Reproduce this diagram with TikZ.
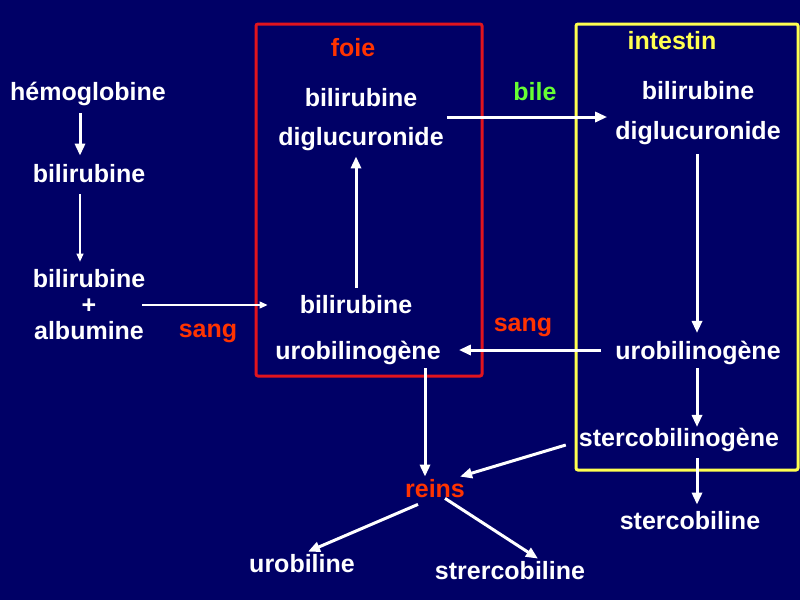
\documentclass[tikz,border=0pt]{standalone}
\usepackage{fontspec}
\setmainfont{Liberation Sans}
\usetikzlibrary{arrows.meta,positioning}

\definecolor{navybg}{RGB}{0,0,102}
\definecolor{organred}{RGB}{255,51,0}
\definecolor{foiered}{RGB}{225,20,30}
\definecolor{intyellow}{RGB}{255,255,80}
\definecolor{bilegreen}{RGB}{102,255,51}

\begin{document}
\begin{tikzpicture}[x=1pt,y=-1pt]
\tikzset{
  chem/.style={text=white,font=\bfseries\fontsize{25}{30}\selectfont,inner sep=3pt,align=center},
  organ/.style={chem,text=organred},
  organbox/.style={draw,line width=3pt,rounded corners=2pt},
  thickarrow/.style={draw=white,line width=3pt,-{Triangle[length=12pt,width=10pt]}},
  thinarrow/.style={draw=white,line width=1.2pt,-{Triangle[length=8pt,width=7pt]}}
}
\fill[navybg] (0,0) rectangle (800,600);
\useasboundingbox (0,0) rectangle (800,600);

% boxes
\node[organbox,draw=foiered,minimum width=226pt,minimum height=352pt] (n_foiebox) at (369,200) {};
\node[organbox,draw=intyellow,minimum width=222pt,minimum height=446pt] (n_intbox) at (687,247) {};

% blood side
\node[chem] (n_hemo) at (88,94) {hémoglobine};
\node[chem] (n_bili) at (89,174) {bilirubine};
\node[chem,font=\bfseries\fontsize{25}{26}\selectfont] (n_bilalb) at (89,305) {bilirubine\\+\\albumine};
\node[organ] (n_sang1) at (208,333) {sang};

% foie
\node[organ] (n_foie) at (353,48) {foie};
\node[chem,font=\bfseries\fontsize{25}{39}\selectfont] (n_diglu) at (361,120) {bilirubine\\diglucuronide};
\node[chem] (n_bili2) at (356,305) {bilirubine};
\node[chem] (n_urob) at (358,353) {urobilinogène};
\node[organ] (n_sang2) at (523,327) {sang};
\node[chem,text=bilegreen] (n_bile) at (535,92) {bile};

% intestin
\node[chem,text=intyellow] (n_intestin) at (672,41) {intestin};
\node[chem,font=\bfseries\fontsize{25}{40}\selectfont] (n_diglu2) at (698,113.5) {bilirubine\\diglucuronide};
\node[chem] (n_urob2) at (698,353) {urobilinogène};
\node[chem] (n_sterg) at (679,440) {stercobilinogène};
\node[chem] (n_sterc) at (690,521) {stercobiline};

% reins
\node[organ] (n_reins) at (435,489) {reins};
\node[chem] (n_urobil) at (302,564) {urobiline};
\node[chem] (n_strer) at (510,571) {strercobiline};

% arrows
\draw[thickarrow,shorten <=4pt,shorten >=6pt] ([xshift=-8pt]n_hemo.south) -- ([xshift=-8pt]n_hemo.south |- n_bili.north);
\draw[thinarrow,shorten <=8pt,shorten >=5pt] ([xshift=-9pt]n_bili.south) -- ([xshift=-9pt]n_bili.south |- n_bilalb.north);
\draw[thinarrow,shorten <=-6pt,shorten >=29pt] (n_bilalb.east) -- (n_bilalb.east -| n_bili2.west);
\draw[thickarrow,shorten <=5pt,shorten >=2pt] (n_bili2.north) -- (n_bili2.north |- n_diglu.south);
\draw[thickarrow,shorten >=5pt] ([yshift=3pt]n_diglu.east) -- ([yshift=3pt]n_diglu.east -| n_diglu2.west);
\draw[thickarrow,shorten <=6pt,shorten >=5pt] ([xshift=-1pt]n_diglu2.south) -- ([xshift=-1pt]n_urob2.north);
\draw[thickarrow,shorten <=11pt,shorten >=15pt] ([yshift=3pt]n_urob2.west) -- ([yshift=3pt]n_urob.east);
\draw[thickarrow,shorten >=-2pt] ([xshift=-1pt]n_urob2.south) -- ([xshift=-1pt]n_urob2.south |- n_sterg.north);
\draw[thickarrow,shorten <=3pt,shorten >=4pt] ([xshift=18pt]n_sterg.south) -- ([xshift=18pt]n_sterg.south |- n_sterc.north);
\draw[thickarrow] ([xshift=-10pt,yshift=-5pt]n_sterg.west) -- ([xshift=-8pt]n_reins.north east);
\draw[thickarrow] ([xshift=-10pt]n_reins.north |- n_urob.south) -- ([xshift=-10pt]n_reins.north);
\draw[thickarrow] ([xshift=-17pt,yshift=-3pt]n_reins.south) -- ([xshift=6pt]n_urobil.north);
\draw[thickarrow] ([xshift=10pt,yshift=3pt]n_reins.south) -- ([xshift=28pt]n_strer.north);
\end{tikzpicture}
\end{document}
